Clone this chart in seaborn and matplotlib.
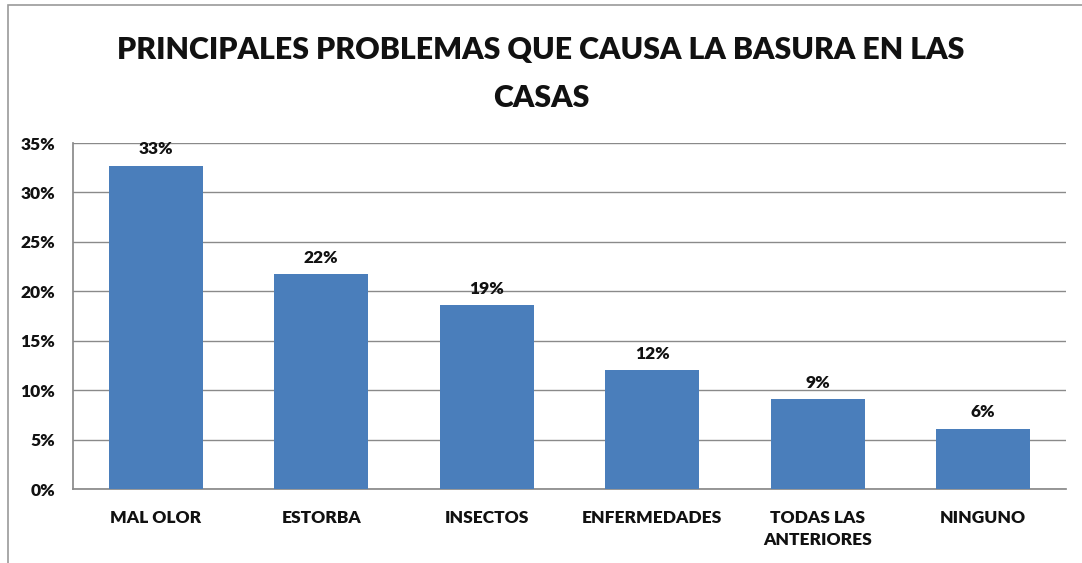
import matplotlib
matplotlib.use("Agg")
import matplotlib.pyplot as plt
import seaborn as sns
import pandas as pd
from matplotlib.ticker import FuncFormatter
from matplotlib.patches import Rectangle

categories = ["MAL OLOR", "ESTORBA", "INSECTOS", "ENFERMEDADES", "TODAS LAS\nANTERIORES", "NINGUNO"]
values = [32.7, 21.7, 18.6, 12.0, 9.1, 6.1]
labels = ["33%", "22%", "19%", "12%", "9%", "6%"]
yticks = [0, 5, 10, 15, 20, 25, 30, 35]
title = "PRINCIPALES PROBLEMAS QUE CAUSA LA BASURA EN LAS\nCASAS"

sns.set_theme(style="white")
FAM = ["Lato", "DejaVu Sans"]
plt.rcParams["font.family"] = FAM

df = pd.DataFrame({"cat": categories, "val": values})

fig = plt.figure(figsize=(10.82, 5.63), dpi=100)
ax = fig.add_axes([73/1082, 1-489/563, (1066-73)/1082, (489-143)/563])

sns.barplot(data=df, x="cat", y="val", color="#4a7ebb", saturation=1, width=0.57,
            linewidth=0, ax=ax, zorder=3)

ax.set_ylim(0, 35)
ax.set_xlim(-0.5, len(categories)-0.5)
ax.set_yticks(yticks)
ax.yaxis.set_major_formatter(FuncFormatter(lambda v, p: f"{int(v)}%"))
ax.grid(axis="y", color="#8a8a8a", linewidth=1.0, zorder=0)
ax.set_xlabel("")
ax.set_ylabel("")
for s in ["top", "right"]:
    ax.spines[s].set_visible(False)
ax.spines["left"].set_color("#8a8a8a")
ax.spines["bottom"].set_color("#8a8a8a")
ax.tick_params(axis="y", length=0, pad=13, labelsize=12.5)
ax.tick_params(axis="x", length=0, pad=15, labelsize=12.5)
for t in ax.get_xticklabels() + ax.get_yticklabels():
    t.set_fontweight("heavy")
    t.set_color("#111111")
    t.set_family(FAM)
for t in ax.get_xticklabels():
    t.set_linespacing(1.45)
    t.set_verticalalignment("top")

for i, (v, lab) in enumerate(zip(values, labels)):
    ax.annotate(lab, (i, v), xytext=(0, 6), textcoords="offset points",
                ha="center", va="bottom", fontsize=12.5, fontweight="heavy",
                color="#111111", family=FAM)

ttl = fig.text(0.5, 1-74/563, title, ha="center", va="center", fontsize=26,
               fontweight="heavy", color="#111111", family=FAM, linespacing=1.85)
fig.canvas.draw()
line1 = fig.text(0, 0, title.split("\n")[0], fontsize=26, fontweight="heavy", family=FAM)
w = line1.get_window_extent(renderer=fig.canvas.get_renderer()).width
line1.remove()
ttl.set_fontsize(26 * 845 / w)

fig.patches.append(Rectangle((8/1082, -0.1), 1.2, 1-5/563+0.1, transform=fig.transFigure,
                             fill=False, edgecolor="#9a9a9a", linewidth=1.2))

fig.savefig("out.png", dpi=100)
